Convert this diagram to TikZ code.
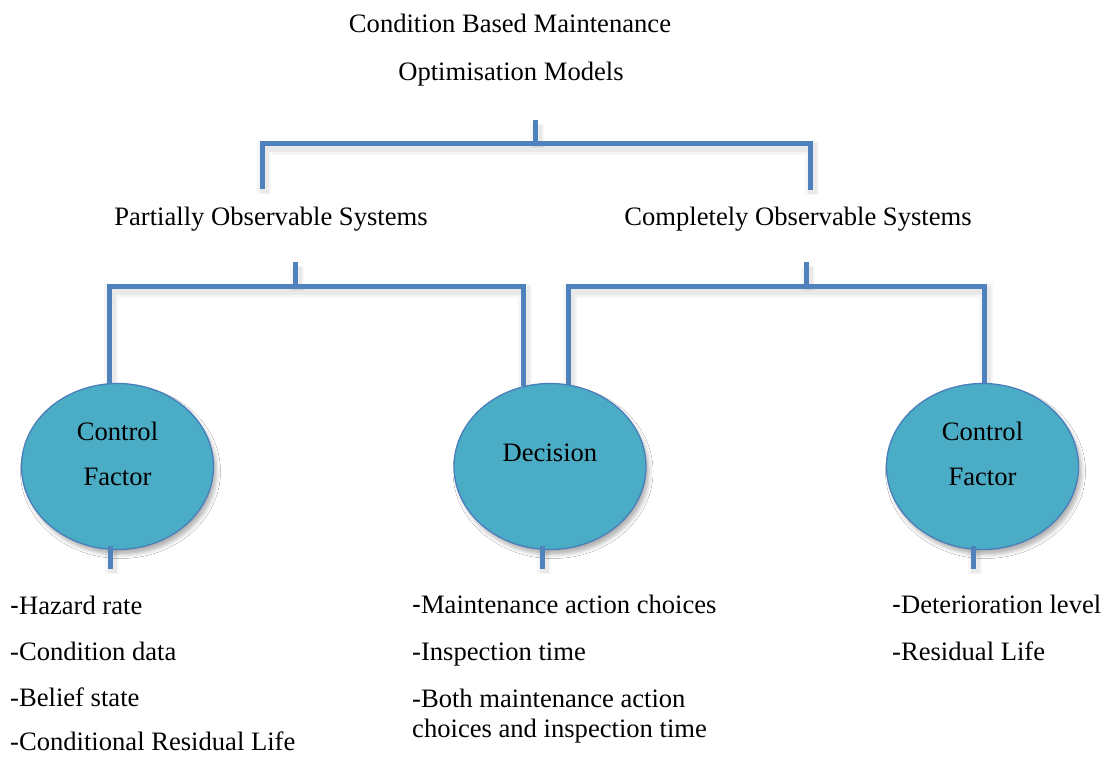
\documentclass[tikz,border=0pt]{standalone}
\usepackage{fontspec}
\setmainfont{Liberation Serif}
\newfontfamily\dashfont{Liberation Sans}
\usetikzlibrary{shapes.geometric,shadows.blur}
\definecolor{linkblue}{HTML}{4F81BD}
\definecolor{bubblefill}{HTML}{4BACC6}
\definecolor{bubbleedge}{HTML}{4A7EBB}
\begin{document}
\begin{tikzpicture}[x=1pt,y=-1pt,
  txt/.style={inner sep=0pt, font=\fontsize{26.6}{32}\selectfont},
  item/.style={txt, anchor=base west},
  conn/.style={draw=linkblue, line width=5pt,
    preaction={draw=black, opacity=0.035, line width=14pt, transform canvas={shift={(2pt,-5pt)}}},
    preaction={draw=black, opacity=0.05, line width=9pt, transform canvas={shift={(2pt,-4pt)}}}},
  bubble/.style={ellipse, draw=bubbleedge, line width=1.3pt, fill=bubblefill,
    minimum width=192pt, minimum height=166pt, inner sep=0pt,
    blur shadow={shadow xshift=3pt, shadow yshift=-5pt, shadow blur radius=4pt, shadow opacity=30}}]
\useasboundingbox[fill=white] (0,0) rectangle (1111,756);

% headings
\node[txt, anchor=base] (title1) at (510,32) {Condition Based Maintenance};
\node[txt, anchor=base] (title2) at (511,80) {Optimisation Models};
\node[txt, anchor=base] (pos) at (271,225) {Partially Observable Systems};
\node[txt, anchor=base] (cos) at (798,225) {Completely Observable Systems};

% first bracket
\coordinate (r0) at (535,120);
\coordinate (b0L) at (262,143);
\coordinate (b0R) at (810,143);
\coordinate (e0L) at (262,189);
\coordinate (e0R) at (810,190);
\draw[conn] (r0) -- (r0 |- b0L);
\draw[conn] (e0L) -- (b0L) -- (b0R) -- (e0R);

% second level brackets
\coordinate (r1) at (295,262);
\coordinate (b1L) at (109,286);
\coordinate (b1R) at (523,286);
\coordinate (r2) at (806,262);
\coordinate (b2L) at (568,286);
\coordinate (b2R) at (984,286);
\draw[conn] (r1) -- (r1 |- b1L);
\draw[conn] (109,386) -- (b1L) -- (b1R) -- (523,386);
\draw[conn] (r2) -- (r2 |- b2L);
\draw[conn] (568,386) -- (b2L) -- (b2R) -- (984,386);

% ellipses
\node[bubble] (ctrlL) at (117.5,466.5) {};
\node[bubble] (dec) at (550,466.5) {};
\node[bubble] (ctrlR) at (982.5,466.5) {};
\node[txt, anchor=base] (ctrlLa) at (117.5,440) {Control};
\node[txt, anchor=base] (ctrlLb) at (117.5,485) {Factor};
\node[txt, anchor=base] (decT) at (550,461) {Decision};
\node[txt, anchor=base] (ctrlRa) at (982.5,440) {Control};
\node[txt, anchor=base] (ctrlRb) at (982.5,485) {Factor};

% stubs below the ellipses
\draw[conn] ([xshift=-7.5pt,yshift=4pt]ctrlL.south) -- ++(0,23);
\draw[conn] ([xshift=-8pt,yshift=4pt]dec.south) -- ++(0,23);
\draw[conn] ([xshift=-9.5pt,yshift=4pt]ctrlR.south) -- ++(0,23);

% lists
\node[item] (l1) at (10,614) {{\dashfont -}Hazard rate};
\node[item] (l2) at (10,660) {-Condition data};
\node[item] (l3) at (10,706) {-Belief state};
\node[item] (l4) at (10,750) {-Conditional Residual Life};
\node[item] (m1) at (412,613) {{\dashfont -}Maintenance action choices};
\node[item] (m2) at (412,660) {-Inspection time};
\node[item] (m3) at (412,707) {-Both maintenance action};
\node[item] (m4) at (412,737) {choices and inspection time};
\node[item] (r1t) at (892,613) {{\dashfont -}Deterioration level};
\node[item] (r2t) at (892,660) {-Residual Life};
\end{tikzpicture}
\end{document}
